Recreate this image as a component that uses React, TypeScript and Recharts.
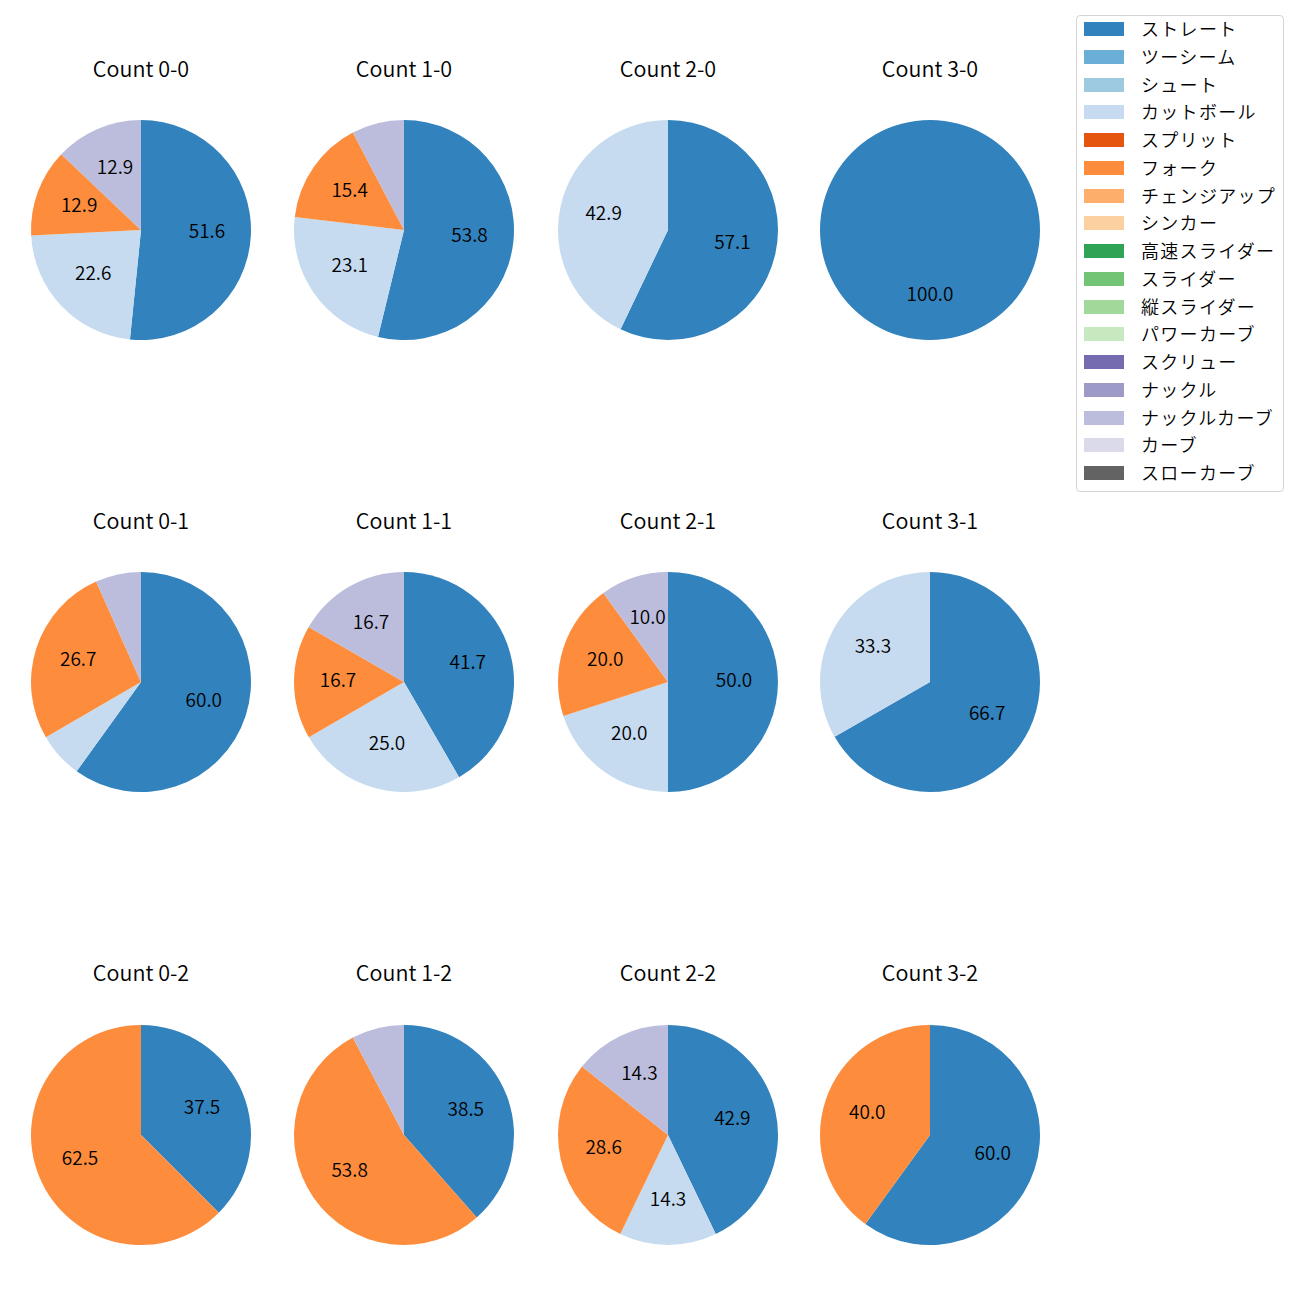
import React from "react";
import { PieChart, Pie, Cell } from "recharts";

const pitchTypes = [
  "ストレート", "ツーシーム", "シュート", "カットボール", "スプリット", "フォーク",
  "チェンジアップ", "シンカー", "高速スライダー", "スライダー", "縦スライダー",
  "パワーカーブ", "スクリュー", "ナックル", "ナックルカーブ", "カーブ", "スローカーブ",
];
const pitchColors = [
  "#3182bd", "#6baed6", "#9ecae1", "#c6dbef", "#e6550d", "#fd8d3c",
  "#fdae6b", "#fdd0a2", "#31a354", "#74c476", "#a1d99b",
  "#c7e9c0", "#756bb1", "#9e9ac8", "#bcbddc", "#dadaeb", "#636363",
];

const countLabels = [
  "Count 0-0", "Count 1-0", "Count 2-0", "Count 3-0",
  "Count 0-1", "Count 1-1", "Count 2-1", "Count 3-1",
  "Count 0-2", "Count 1-2", "Count 2-2", "Count 3-2",
];

// percentages per pitch type for each count (same order as countLabels)
const straightPct = [51.6, 53.8, 57.1, 100.0, 60.0, 41.7, 50.0, 66.7, 37.5, 38.5, 42.9, 60.0];
const cutBallPct = [22.6, 23.1, 42.9, 0, 6.7, 25.0, 20.0, 33.3, 0, 0, 14.3, 0];
const forkPct = [12.9, 15.4, 0, 0, 26.7, 16.7, 20.0, 0, 62.5, 53.8, 28.6, 40.0];
const knuckleCurvePct = [12.9, 7.7, 0, 0, 6.7, 16.7, 10.0, 0, 0, 7.7, 14.3, 0];

const seriesByType: { type: string; values: number[] }[] = [
  { type: "ストレート", values: straightPct },
  { type: "カットボール", values: cutBallPct },
  { type: "フォーク", values: forkPct },
  { type: "ナックルカーブ", values: knuckleCurvePct },
];

const colCenters = [141, 404, 668, 930];
const rowCenters = [229.5, 682, 1134.5];
const titleYs = [68, 520, 972];
const R = 110;
const FONT = "'Noto Sans CJK JP', 'Noto Sans', sans-serif";
const WEIGHT = 350;
const RAD = Math.PI / 180;

function colorOf(type: string) {
  return pitchColors[pitchTypes.indexOf(type)];
}

const renderLabel = (props: any) => {
  const { cx, cy, midAngle, outerRadius, value } = props;
  if (value < 9) return null;
  const r = outerRadius * 0.6;
  const x = cx + r * Math.cos(-midAngle * RAD);
  const y = cy + r * Math.sin(-midAngle * RAD) - 4;
  return (
    <text x={x} y={y} textAnchor="middle" dominantBaseline="central" fill="#000"
      fontSize={19} fontFamily={FONT} fontWeight={WEIGHT}>
      {Number(value).toFixed(1)}
    </text>
  );
};

function SinglePie({ idx }: { idx: number }) {
  const col = idx % 4;
  const row = Math.floor(idx / 4);
  const cx = colCenters[col];
  const cy = rowCenters[row];
  const data = seriesByType
    .map((s) => ({ name: s.type, value: s.values[idx] }))
    .filter((d) => d.value > 0);
  const size = 240;
  return (
    <>
      <div style={{
        position: "absolute", left: cx - 100, width: 200, top: titleYs[row] - 15,
        height: 30, lineHeight: "30px", textAlign: "center", fontSize: 21.5,
        fontFamily: FONT, fontWeight: WEIGHT, color: "#000",
      }}>{countLabels[idx]}</div>
      <div style={{ position: "absolute", left: cx - size / 2, top: cy - size / 2 }}>
        <PieChart width={size} height={size} margin={{ top: 0, right: 0, bottom: 0, left: 0 }}>
          <Pie data={data} dataKey="value" nameKey="name" cx={size / 2} cy={size / 2}
            outerRadius={R} innerRadius={0} startAngle={90} endAngle={-270}
            isAnimationActive={false} stroke="none" label={renderLabel} labelLine={false}>
            {data.map((d) => (
              <Cell key={d.name} fill={colorOf(d.name)} stroke="none" />
            ))}
          </Pie>
        </PieChart>
      </div>
    </>
  );
}

function Legend() {
  const rowH = 27.75;
  return (
    <div style={{
      position: "absolute", left: 1076, top: 15, width: 208, height: 477,
      border: "1px solid #d5d5d5", borderRadius: 4, boxSizing: "border-box",
      background: "#fff",
    }}>
      {pitchTypes.map((t, i) => (
        <div key={t} style={{
          position: "absolute", left: 0, top: 14 - rowH / 2 + i * rowH - 1, height: rowH,
          width: 206,
        }}>
          <div style={{ position: "absolute", left: 7, width: 40, height: 14, background: pitchColors[i], top: (rowH - 14) / 2 }} />
          <div style={{ position: "absolute", left: 64, fontSize: 18, fontFamily: FONT, fontWeight: WEIGHT, letterSpacing: 1.3, color: "#000", whiteSpace: "nowrap", lineHeight: `${rowH}px`, top: 0 }}>{t}</div>
        </div>
      ))}
    </div>
  );
}

export default function App() {
  return (
    <div style={{ position: "absolute", left: 0, top: 0, width: 1300, height: 1300, background: "#fff" }}>
      {countLabels.map((_, i) => (
        <SinglePie key={i} idx={i} />
      ))}
      <Legend />
    </div>
  );
}
